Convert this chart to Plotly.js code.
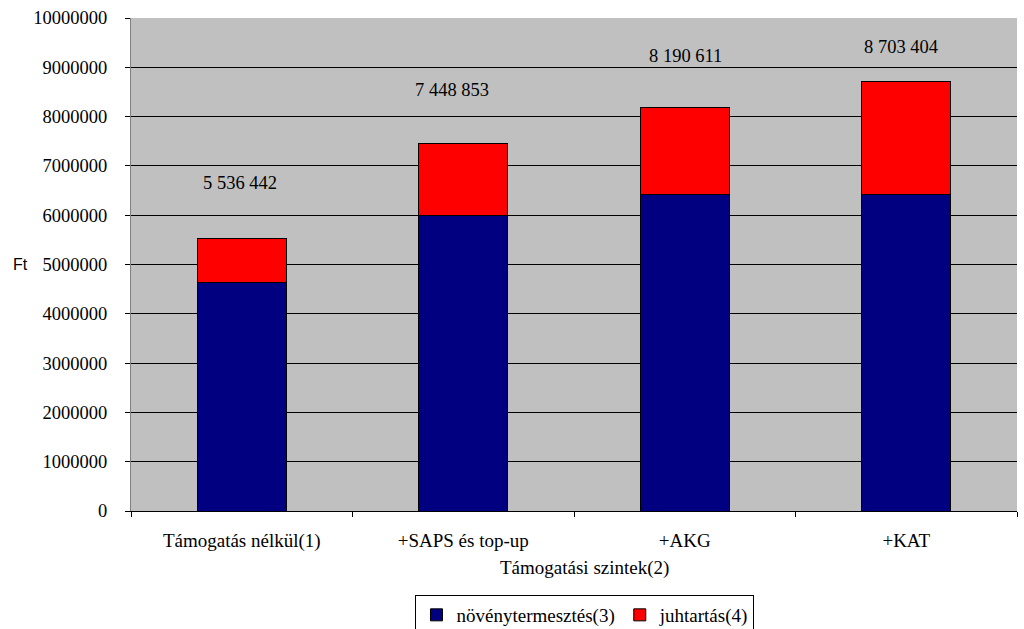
<!DOCTYPE html>
<html>
<head>
<meta charset="utf-8">
<script src="https://cdn.plot.ly/plotly-3.0.1.min.js"></script>
<style>html,body{margin:0;padding:0;background:#fff;}#chart{width:1024px;height:629px;}</style>
</head>
<body>
<div id="chart"></div>
<script>
const categories = ['Támogatás nélkül(1)', '+SAPS és top-up', '+AKG', '+KAT'];
const novenyValues = [4640000, 5990000, 6420000, 6420000];
const juhValues = [896442, 1458853, 1770611, 2283404];
const labelY = [6650000, 8540000, 9230000, 9420000];
const labelShift = [-2, -11, 1, -5];
const seriesNames = ['növénytermesztés(3)', 'juhtartás(4)'];
const xTitle = 'Támogatási szintek(2)';
const yTitle = 'Ft';

const totals = novenyValues.map((v, i) => v + juhValues[i]);
function fmt(n) { return String(n).replace(/\B(?=(\d{3})+(?!\d))/g, ' '); }

const serif = 'Liberation Serif';

const traces = [
  { type: 'bar', name: seriesNames[0], x: categories, y: novenyValues,
    marker: { color: '#000080', line: { color: '#000000', width: 1 } }, hoverinfo: 'y' },
  { type: 'bar', name: seriesNames[1], x: categories, y: juhValues,
    marker: { color: '#FF0000', line: { color: '#000000', width: 1 } }, hoverinfo: 'y' }
];

const annotations = categories.map((c, i) => ({
  x: c, y: labelY[i], xref: 'x', yref: 'y', xshift: labelShift[i], text: fmt(totals[i]), showarrow: false,
  font: { family: serif, size: 18.5, color: '#000' }
}));
annotations.push({
  xref: 'paper', yref: 'paper', x: -0.125, y: 0.5, xanchor: 'center', yanchor: 'middle',
  text: yTitle, showarrow: false, font: { family: 'Liberation Sans', size: 16, color: '#000' }
});
annotations.push({
  xref: 'paper', yref: 'paper', x: 0.5124, y: -0.1156, xanchor: 'center', yanchor: 'middle',
  text: xTitle, showarrow: false, font: { family: serif, size: 19, color: '#000' }
});

const layout = {
  width: 1024, height: 629,
  margin: { l: 131, r: 7, t: 18, b: 118, pad: 0, autoexpand: false },
  barmode: 'stack', bargap: 0.6,
  paper_bgcolor: '#ffffff', plot_bgcolor: '#C0C0C0',
  font: { family: serif, size: 18, color: '#000' },
  xaxis: {
    type: 'category', tickson: 'boundaries', ticks: 'outside', ticklen: 5, tickcolor: '#000',
    showline: true, linecolor: '#000', linewidth: 1, showgrid: false,
    ticklabelstandoff: 12,
    tickfont: { family: serif, size: 19, color: '#000' }
  },
  yaxis: {
    range: [0, 10000000], dtick: 1000000, tick0: 0, tickformat: 'd',
    ticks: 'outside', ticklen: 5, tickcolor: '#000',
    showline: true, linecolor: '#808080', linewidth: 1,
    showgrid: true, gridcolor: '#000', gridwidth: 1, zeroline: false,
    ticklabelstandoff: 14,
    tickfont: { family: serif, size: 18.5, color: '#000' }
  },
  legend: {
    orientation: 'h', x: 0.5124, xanchor: 'center', y: -0.1704, yanchor: 'top',
    bordercolor: '#000', borderwidth: 1, bgcolor: '#fff',
    font: { family: serif, size: 19, color: '#000' }, traceorder: 'normal'
  },
  annotations: annotations,
  showlegend: true
};

Plotly.newPlot('chart', traces, layout, { displayModeBar: false, staticPlot: true });
</script>
</body>
</html>
